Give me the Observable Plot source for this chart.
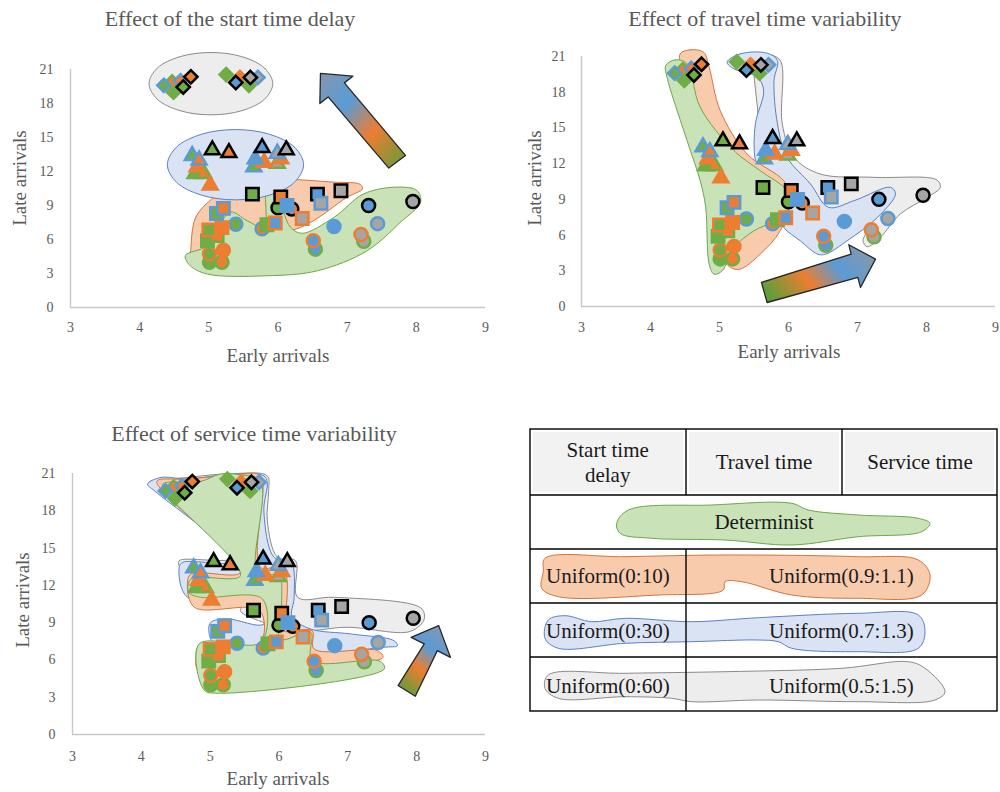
<!DOCTYPE html>
<html><head><meta charset="utf-8">
<script src="https://cdn.jsdelivr.net/npm/d3@7"></script>
<script src="https://cdn.jsdelivr.net/npm/@observablehq/plot@0.6"></script>
<style>
body{margin:0;background:#fff;}
#root{position:relative;width:1000px;height:792px;overflow:hidden;background:#fff;}
.panel{position:absolute;}
#overlay{position:absolute;left:0;top:0;pointer-events:none;}
</style></head>
<body><div id="root"></div>
<script>
// ---------- DATA ----------
const xTicks = [3,4,5,6,7,8,9];
const yTicks = [0,3,6,9,12,15,18,21];
const panelTitles = ["Effect of the start time delay","Effect of travel time variability","Effect of service time variability"];
const xLabel = "Early arrivals";
const yLabel = "Late arrivals";

// [early, late, fill code, stroke code]  G=determinist, O, B, A(gray), K(black)
const circles = [
  [5.39,7.35,"G","B"],[5.77,6.95,"O","B"],[6.81,7.15,"B","B"],[7.44,7.4,"A","B"],
  [6.54,5.15,"B","G"],[6.51,5.9,"B","O"],[7.24,5.85,"A","G"],[7.2,6.45,"A","O"],
  [5.01,4.0,"G","G"],[5.19,4.0,"O","G"],[5.01,4.75,"G","O"],[5.21,5.05,"O","O"],
  [6.0,8.8,"G","K"],[6.2,8.7,"O","K"],[7.31,9.0,"B","K"],[7.95,9.35,"A","K"]
];
const squares = [
  [4.98,5.9,"G","G"],[5.12,6.35,"O","G"],[5.0,6.85,"G","O"],[5.19,7.05,"O","O"],
  [5.84,7.3,"G","G"],[5.96,7.45,"B","O"],[6.35,7.85,"A","O"],
  [5.11,8.3,"G","B"],[5.21,8.75,"O","B"],
  [5.63,10.0,"G","K"],[6.04,9.75,"O","K"],[6.57,10.0,"B","K"],[6.91,10.3,"A","K"],
  [6.13,9.0,"B","B"],[6.62,9.2,"A","B"]
];
const triangles = [
  [4.80,11.8,"G","G"],[4.93,11.8,"O","G"],[5.65,12.4,"G","B"],[5.99,12.7,"A","G"],
  [4.83,12.4,"O","O"],[5.02,10.8,"O","O"],[5.8,12.8,"O","O"],[6.04,13.1,"O","O"],
  [4.76,13.4,"G","B"],[4.86,13.0,"O","B"],[5.67,13.1,"B","B"],[5.99,13.6,"A","B"],
  [5.05,13.9,"G","K"],[5.29,13.65,"O","K"],[5.77,14.1,"B","K"],[6.12,13.9,"A","K"]
];
const diamonds = [
  [4.49,19.0,"G","G"],[4.47,19.9,"O","G"],[5.25,20.55,"G","G"],[5.58,19.6,"G","G"],[5.45,20.3,"O","O"],
  [4.35,19.6,"G","B"],[4.59,20.0,"O","B"],[5.71,20.3,"A","B"],
  [4.63,19.45,"G","K"],[4.74,20.35,"O","K"],[5.39,19.85,"B","K"],[5.6,20.3,"A","K"]
];

// hand-drawn group outlines (early, late)
const p1Gray = [[5.925,19.75],[5.805,21.125],[5.478,22.132],[5.03,22.5],[4.583,22.132],[4.255,21.125],[4.135,19.75],[4.255,18.375],[4.583,17.368],[5.03,17.0],[5.478,17.368],[5.805,18.375]];
const p1Blue = [[6.37,12.6],[6.238,14.15],[5.878,15.285],[5.385,15.7],[4.893,15.285],[4.532,14.15],[4.40,12.6],[4.532,11.05],[4.893,9.915],[5.385,9.5],[5.878,9.915],[6.238,11.05]];
const p1Orange = [[4.74,5.16],[4.81,7.96],[5.07,9.73],[5.36,11.06],[5.84,11.36],[6.81,11.06],[7.19,10.86],[7.22,10.47],[7.0,9.73],[6.33,7.08],[5.36,5.9],[4.74,4.72]];
const p1Green = [[4.66,4.57],[4.98,5.46],[5.31,8.41],[5.55,7.67],[5.80,7.08],[5.84,10.32],[5.99,9.73],[6.18,7.08],[6.35,6.55],[6.81,7.96],[7.24,10.03],[7.72,10.62],[8.01,10.32],[8.06,9.29],[7.77,7.52],[7.29,5.01],[6.57,3.24],[5.84,2.80],[4.98,2.95],[4.73,3.69]];

const p2Gray = [[5.50,20.94],[5.69,21.17],[5.88,20.66],[5.91,15.34],[6.08,12.53],[6.46,11.13],[7.24,10.85],[8.15,10.63],[8.20,10.01],[8.01,9.17],[7.62,7.77],[7.33,5.80],[7.14,5.02],[7.08,5.52],[7.14,6.64],[6.66,7.20],[6.17,7.77],[5.88,9.45],[5.64,11.69],[5.55,16.74],[5.50,19.54]];
const p2Blue = [[5.11,20.52],[5.30,21.22],[5.69,21.28],[5.84,20.66],[5.79,18.98],[5.84,15.34],[5.98,12.53],[6.32,10.29],[6.58,8.33],[6.95,8.89],[7.48,10.01],[7.55,9.45],[7.29,7.49],[6.85,5.52],[6.54,4.40],[6.42,4.40],[6.17,5.52],[5.93,6.64],[5.79,8.33],[5.64,10.57],[5.52,12.25],[5.52,15.34],[5.64,18.14],[5.55,19.26],[5.21,19.96]];
const p2Orange = [[4.43,21.22],[4.58,21.56],[4.77,21.36],[4.85,20.10],[5.01,16.46],[5.40,12.81],[5.93,10.57],[6.03,9.17],[5.88,6.36],[5.59,4.40],[5.30,3.14],[5.16,3.28],[5.01,4.40],[4.72,11.13],[4.46,19.54]];
const p2Green = [[4.22,20.24],[4.36,20.72],[4.53,20.38],[4.72,16.74],[5.21,13.09],[5.59,11.41],[5.98,9.73],[6.03,8.61],[5.79,7.20],[5.50,6.36],[5.21,4.96],[5.04,3.00],[4.92,2.72],[4.85,3.56],[4.80,8.33],[4.72,10.57],[4.53,13.93],[4.24,19.26]];

const p3Gray = [[4.11,20.28],[4.67,20.68],[5.35,21.00],[5.83,20.81],[5.85,19.61],[5.83,17.20],[5.98,14.25],[6.24,13.98],[6.27,11.04],[6.80,11.04],[8.06,10.18],[8.11,9.30],[7.91,8.30],[6.99,8.63],[6.31,8.36],[5.64,9.30],[5.44,9.97],[5.54,10.77],[5.64,12.64],[4.57,13.45],[4.55,13.98],[5.35,14.25],[4.19,19.74]];
const p3Blue = [[4.09,20.14],[4.28,20.68],[4.67,20.55],[5.30,20.95],[5.78,20.81],[5.83,20.28],[5.78,18.00],[5.93,14.25],[6.17,13.98],[6.22,11.04],[6.19,9.43],[6.46,8.49],[7.04,8.09],[7.67,7.55],[7.72,7.15],[7.52,7.02],[6.51,6.48],[5.78,6.75],[5.06,7.29],[4.98,8.36],[5.01,9.03],[5.25,9.30],[5.78,8.89],[5.78,10.77],[4.67,11.04],[4.55,13.45],[4.60,13.85],[5.35,13.98],[4.19,19.61]];
const p3Orange = [[4.23,20.41],[4.67,20.55],[5.35,20.89],[5.69,20.95],[5.76,20.41],[5.73,13.45],[6.06,13.45],[6.10,10.23],[6.05,9.70],[6.05,8.36],[6.48,8.36],[6.51,6.88],[7.43,6.75],[7.51,6.21],[6.51,5.41],[4.86,4.88],[4.79,6.21],[4.86,7.29],[5.72,7.29],[5.72,9.97],[4.77,10.23],[4.67,12.11],[4.72,12.91],[5.44,13.05],[4.28,19.74]];
const p3Green = [[4.31,20.14],[4.86,20.36],[5.15,20.95],[5.44,20.89],[5.73,20.41],[5.69,12.91],[6.00,12.78],[6.04,11.04],[6.03,9.97],[6.02,7.65],[6.46,8.22],[6.48,5.95],[7.47,5.89],[7.53,5.28],[5.10,3.32],[4.91,3.59],[4.84,7.29],[5.74,7.42],[5.76,10.90],[4.86,11.04],[4.69,11.44],[4.72,12.51],[5.44,12.78],[4.38,19.34]];

// direction arrows
const arrow1 = [[6.614,20.65],[7.082,20.41],[6.96,19.82],[7.843,13.42],[7.602,12.30],[6.725,18.58],[6.605,17.99]];
const arrow2 = [[5.609,2.02],[6.908,4.40],[6.874,5.19],[7.261,3.98],[7.043,1.60],[7.005,2.44],[5.69,0.336]];
const arrow3 = [[7.73,3.94],[8.11,7.29],[7.92,7.82],[8.32,8.76],[8.49,6.21],[8.30,6.75],[7.98,3.08]];

// legend
const legendHeader = ["Start time|delay","Travel time","Service time"];
const legendRows = [["Determinist"],["Uniform(0:10)","Uniform(0.9:1.1)"],["Uniform(0:30)","Uniform(0.7:1.3)"],["Uniform(0:60)","Uniform(0.5:1.5)"]];

// ---------- STYLE ----------
const C = {G:"#70ad47", O:"#ed7d31", B:"#5b9bd5", A:"#a5a5a5", K:"#000000"};
const BLOB = {
  green:{fill:"#c9e2b8", stroke:"#6fa64a"},
  orange:{fill:"#f8cbad", stroke:"#d0763c"},
  blue:{fill:"#dae3f3", stroke:"#5b7fc7"},
  gray:{fill:"#ededed", stroke:"#8a8a8a"}
};
const FONT = "'Liberation Serif','Times New Roman',serif";
const TXT = "#595959";

const root = document.getElementById("root");

function blob(pts, key, curve = "catmull-rom-closed") {
  return Plot.line(pts, {x: d => d[0], y: d => d[1], curve, fill: BLOB[key].fill, stroke: BLOB[key].stroke, strokeWidth: 1});
}
function dots(arr, symbol, r) {
  return Plot.dot(arr, {x: d => d[0], y: d => d[1], fill: d => C[d[2]], stroke: d => C[d[3]], symbol, r, strokeWidth: 2.5});
}

const panels = [
  {left:0, top:40, w:500, h:330, mL:70, mR:15, mT:29, mB:63, padX:15, padY:17,
   blobs:[blob(p1Orange,"orange"), blob(p1Green,"green"), blob(p1Blue,"blue"), blob(p1Gray,"gray")],
   arrow:arrow1, grad:{id:"g1", x1:1,y1:1,x2:0,y2:0}},
  {left:500, top:40, w:500, h:330, mL:81, mR:5, mT:16, mB:64, padX:16, padY:16,
   blobs:[blob(p2Gray,"gray"), blob(p2Blue,"blue"), blob(p2Orange,"orange"), blob(p2Green,"green")],
   arrow:arrow2, grad:{id:"g2", x1:0,y1:0.7,x2:1,y2:0.3}},
  {left:0, top:410, w:500, h:382, mL:72, mR:15, mT:63, mB:58, padX:17, padY:17,
   blobs:[blob(p3Gray,"gray"), blob(p3Blue,"blue"), blob(p3Orange,"orange"), blob(p3Green,"green")],
   arrow:arrow3, grad:{id:"g3", x1:0.2,y1:1,x2:0.8,y2:0}}
];
const gradStops = [[0,"#5f9e3a"],[0.38,"#ed7d31"],[0.68,"#5b9bd5"],[1,"#8497b0"]];

panels.forEach(p => {
  const svg = Plot.plot({
    width: p.w, height: p.h,
    marginLeft: p.mL, marginRight: p.mR, marginTop: p.mT, marginBottom: p.mB,
    x: {domain: [3, 9]},
    y: {domain: [0, 21]},
    color: {type: "identity"},
    style: {fontFamily: FONT, fontSize: "14px", color: TXT, background: "transparent", overflow: "visible"},
    marks: [
      ...p.blobs,
      Plot.line(p.arrow, {x: d => d[0], y: d => d[1], curve: "linear-closed", fill: `url(#${p.grad.id})`, stroke: "#262626", strokeWidth: 1.3}),
      Plot.ruleY([0], {stroke: "#c8c8c8", strokeWidth: 1.4}),
      Plot.ruleX([3], {stroke: "#c8c8c8", strokeWidth: 1.4}),
      Plot.axisX({ticks: xTicks, tickFormat: d => String(d), tickSize: 0, tickPadding: p.padX, label: null, fontSize: 14}),
      Plot.axisY({ticks: yTicks, tickFormat: d => String(d), tickSize: 0, tickPadding: p.padY, label: null, fontSize: 14}),
      dots(circles, "circle", 6.5),
      dots(squares, "square", 7),
      dots(triangles, "triangle", 5.5),
      dots(diamonds, "diamond2", 6)
    ]
  });
  const defs = d3.select(svg).insert("defs", ":first-child");
  const lg = defs.append("linearGradient").attr("id", p.grad.id)
    .attr("x1", p.grad.x1).attr("y1", p.grad.y1).attr("x2", p.grad.x2).attr("y2", p.grad.y2);
  gradStops.forEach(([o, c]) => lg.append("stop").attr("offset", o).attr("stop-color", c));
  const div = document.createElement("div");
  div.className = "panel";
  div.style.left = p.left + "px"; div.style.top = p.top + "px";
  div.appendChild(svg);
  root.appendChild(div);
});

// ---------- OVERLAY: titles, axis labels, legend table ----------
const ov = d3.select(root).append("svg").attr("id", "overlay").attr("width", 1000).attr("height", 792)
  .style("font-family", FONT);

const titlePos = [[230, 26], [765, 26], [254, 441]];
panelTitles.forEach((t, i) => ov.append("text").attr("x", titlePos[i][0]).attr("y", titlePos[i][1])
  .attr("text-anchor", "middle").attr("font-size", 22).attr("fill", TXT).text(t));
[[278, 362], [789, 358], [278, 785]].forEach(([x, y]) => ov.append("text").attr("x", x).attr("y", y)
  .attr("text-anchor", "middle").attr("font-size", 19).attr("fill", TXT).text(xLabel));
[[26, 178], [541, 178], [29, 600]].forEach(([x, y]) => ov.append("text")
  .attr("transform", `translate(${x},${y}) rotate(-90)`)
  .attr("text-anchor", "middle").attr("font-size", 19).attr("fill", TXT).text(yLabel));

// legend table
const L = ov.append("g");
const tx0 = 530, tx1 = 997, ty = [429, 495, 549, 603, 657, 711], cx = [530, 686, 842, 997];
for (let i = 0; i < 3; i++) {
  L.append("rect").attr("x", cx[i] + 3).attr("y", ty[0] + 3).attr("width", cx[i+1] - cx[i] - 6).attr("height", ty[1] - ty[0] - 6)
    .attr("fill", "#f2f2f2");
}
const legBlobs = [
  ["green", [[616.7,523.3],[628.3,510],[711.7,505],[791.7,503.3],[808.3,510],[858.3,515],[918.3,518.3],[930,523.3],[921.7,531.7],[858.3,536.7],[791.7,545],[725,540],[651.7,538.3],[620,533.3]]],
  ["orange", [[545,558.3],[625,556.7],[725,555],[858.3,556.7],[918.3,560],[930,575],[921.7,595],[858.3,598.3],[791.7,595],[741.7,581.7],[725,581.7],[723.3,590],[658.3,595],[558.3,596.7],[541.7,588.3],[543.3,571.7]]],
  ["blue", [[548.3,620],[565,615.7],[591.7,621.7],[625,618.3],[691.7,621.7],[758.3,617.7],[858.3,613.3],[918.3,615],[925,631.7],[918.3,648.3],[858.3,651.7],[791.7,648.3],[778.3,641.7],[758.3,640],[691.7,641.7],[625,643.3],[558.3,648.3],[545,638.3]]],
  ["gray", [[548.3,675],[625,673.3],[725,671.7],[841.7,668.3],[908.3,661.7],[925,668.3],[945,691.7],[935,700],[858.3,701.7],[758.3,700],[691.7,701.7],[671.7,698.3],[625,696.7],[558.3,698.3],[545,688.3]]]
];
const lineGen = d3.line().curve(d3.curveCatmullRomClosed);
legBlobs.forEach(([k, pts]) => L.append("path").attr("d", lineGen(pts))
  .attr("fill", BLOB[k].fill).attr("stroke", BLOB[k].stroke).attr("stroke-width", 1));
const ls = (x1, y1, x2, y2) => L.append("line").attr("x1", x1).attr("y1", y1).attr("x2", x2).attr("y2", y2)
  .attr("stroke", "#000").attr("stroke-width", 1.4);
L.append("rect").attr("x", tx0).attr("y", ty[0]).attr("width", tx1 - tx0).attr("height", ty[5] - ty[0])
  .attr("fill", "none").attr("stroke", "#000").attr("stroke-width", 1.4);
[1, 2, 3, 4].forEach(i => ls(tx0, ty[i], tx1, ty[i]));
ls(cx[1], ty[0], cx[1], ty[1]);
ls(cx[2], ty[0], cx[2], ty[1]);
ls(cx[1], ty[2], cx[1], ty[5]);
const lt = (x, y, s, anchor = "middle") => L.append("text").attr("x", x).attr("y", y).attr("text-anchor", anchor)
  .attr("font-size", 21).attr("fill", "#1a1a1a").text(s);
const hdr = legendHeader[0].split("|");
lt(607.7, 457, hdr[0]); lt(607.7, 482, hdr[1]);
lt(764, 469, legendHeader[1]);
lt(920, 469, legendHeader[2]);
lt(764, 529, legendRows[0][0]);
const rowBase = [583, 638, 693];
for (let i = 1; i < 4; i++) {
  lt(546, rowBase[i-1], legendRows[i][0], "start");
  lt(769, rowBase[i-1], legendRows[i][1], "start");
}
</script>
</body></html>
